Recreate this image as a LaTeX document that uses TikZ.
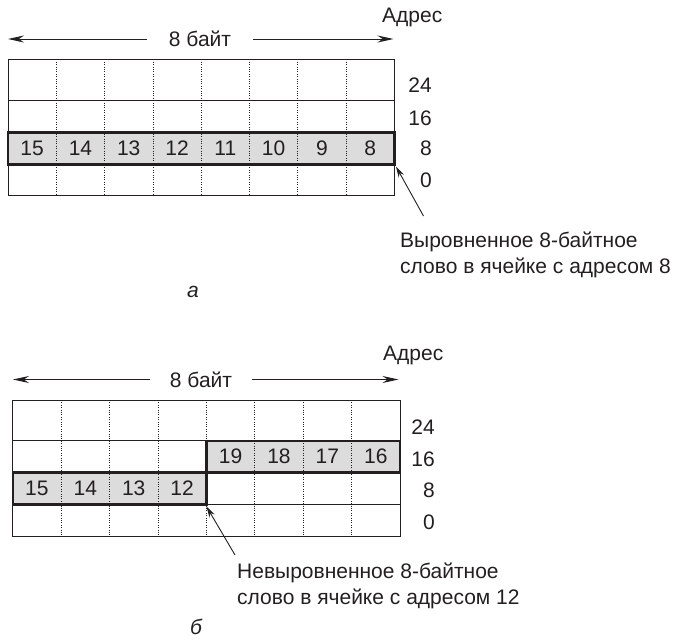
\documentclass[tikz,border=0pt]{standalone}
\usepackage{fontspec}
\setmainfont{Liberation Sans}
\usetikzlibrary{arrows.meta}
\definecolor{ink}{HTML}{231F20}
\definecolor{cellgray}{HTML}{DCDCDC}
\begin{document}
\begin{tikzpicture}[x=1pt,y=-1pt,
  lbl/.style={font=\fontsize{21}{25}\selectfont, inner sep=0pt, text=ink},
  ital/.style={font=\fontsize{21}{25}\selectfont\itshape, inner sep=0pt, text=ink},
  gridline/.style={draw=ink, line width=0.9pt},
  dotline/.style={draw=ink, line width=0.7pt, dash pattern=on 1pt off 1.4pt},
  wordbox/.style={draw=ink, line width=2.4pt},
  spanarrow/.style={draw=ink, line width=1pt, -{Stealth[length=16pt,width=7pt]}},
  pointer/.style={draw=ink, line width=0.9pt, -{Stealth[length=11pt,width=6pt]}}]
\useasboundingbox (0,0) rectangle (675,643);

% ---------------- (a) ----------------
\def\xa{8}\def\wa{48.29}
\fill[cellgray] (\xa,132.3) rectangle (394.3,164.3);
\foreach \i in {1,...,7}
  \draw[dotline] ({\xa+\i*\wa},59.3) -- ({\xa+\i*\wa},195.7);
\draw[gridline] (\xa,59.3) rectangle (394.3,195.7);
\draw[gridline] (\xa,100) -- (394.3,100);
\draw[gridline] (\xa,164.3) -- (394.3,164.3);
\draw[wordbox] (\xa,132.3) rectangle (394.3,164.3);
\foreach \n [count=\c from 0] in {15,14,13,12,11,10,9,8}
  \node[lbl] (a\n) at ({\xa+(\c+0.5)*\wa},148.3) {\n};

\node[lbl, anchor=west] (adrA) at (382,17) {Адрес};
\node[lbl] (bytesA) at (200,39) {8 байт};
\coordinate (aL) at (8,39);
\coordinate (aR) at (393.5,39);
\draw[spanarrow] (bytesA.west) ++(-22,0) -- (aL);
\draw[spanarrow] (bytesA.east) ++(22,0) -- (aR);

\node[lbl, anchor=east] (ra24) at (432,85) {24};
\node[lbl, anchor=east] (ra16) at (432,118) {16};
\node[lbl, anchor=east] (ra8)  at (432,148) {8};
\node[lbl, anchor=east] (ra0)  at (432,180) {0};

\node[lbl, anchor=base west] (noteA1) at (400,247) {Выровненное 8-байтное};
\node[lbl, anchor=base west] (noteA2) at (400,273.5) {слово в ячейке с адресом 8};
\coordinate (tailA) at (423.5,216);
\coordinate (cornerA) at (396,166.5);
\draw[pointer] (tailA) -- (cornerA);
\node[ital] (capA) at (193,292) {а};

% ---------------- (b) ----------------
\def\xb{12.7}\def\wb{48.41}
\fill[cellgray] ({\xb+4*\wb},440.7) rectangle (400,472.3);
\fill[cellgray] (\xb,472.3) rectangle ({\xb+4*\wb},504.3);
\foreach \i in {1,...,7}
  \draw[dotline] ({\xb+\i*\wb},400) -- ({\xb+\i*\wb},536);
\draw[gridline] (\xb,400) rectangle (400,536);
\draw[gridline] (\xb,440.7) -- (400,440.7);
\draw[gridline] (\xb,472.3) -- (400,472.3);
\draw[gridline] (\xb,504.3) -- (400,504.3);
\draw[wordbox] ({\xb+4*\wb},440.7) rectangle (400,472.3);
\draw[wordbox] (\xb,472.3) rectangle ({\xb+4*\wb},504.3);
\foreach \n [count=\c from 4] in {19,18,17,16}
  \node[lbl] (b\n) at ({\xb+(\c+0.5)*\wb},456.5) {\n};
\foreach \n [count=\c from 0] in {15,14,13,12}
  \node[lbl] (b\n) at ({\xb+(\c+0.5)*\wb},488.3) {\n};

\node[lbl, anchor=west] (adrB) at (383,355) {Адрес};
\node[lbl] (bytesB) at (201,379.5) {8 байт};
\coordinate (bL) at (13,379.5);
\coordinate (bR) at (398.5,379.5);
\draw[spanarrow] (bytesB.west) ++(-20,0) -- (bL);
\draw[spanarrow] (bytesB.east) ++(20,0) -- (bR);

\node[lbl, anchor=east] (rb24) at (435,427) {24};
\node[lbl, anchor=east] (rb16) at (435,459) {16};
\node[lbl, anchor=east] (rb8)  at (435,490) {8};
\node[lbl, anchor=east] (rb0)  at (435,522) {0};

\node[lbl, anchor=base west] (noteB1) at (237,578) {Невыровненное 8-байтное};
\node[lbl, anchor=base west] (noteB2) at (237,604) {слово в ячейке с адресом 12};
\coordinate (tailB) at (235,555);
\coordinate (cornerB) at (206.5,506.5);
\draw[pointer] (tailB) -- (cornerB);
\node[ital] (capB) at (196,627) {б};
\end{tikzpicture}
\end{document}
